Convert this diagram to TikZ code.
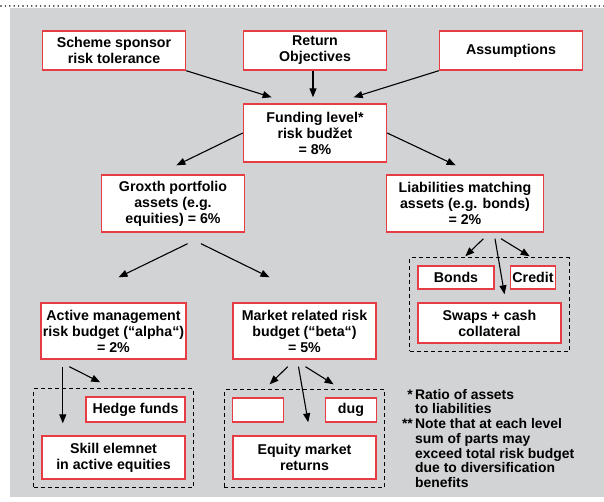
\documentclass[tikz,border=0pt]{standalone}
\usepackage{fontspec}
\setmainfont{Liberation Sans}
\newfontfamily\diagfont{Liberation Sans}
\usetikzlibrary{arrows.meta,fit}

\definecolor{boxred}{RGB}{232,60,68}
\definecolor{panelgray}{RGB}{210,211,213}

\tikzset{
  box/.style={draw=boxred, line width=1.4pt, fill=white, align=center, inner sep=2pt,
    font=\diagfont\bfseries\fontsize{14.2}{16}\selectfont},
  grp/.style={draw=black, line width=1pt, dash pattern=on 4pt off 3pt, inner sep=7.5pt},
}

\begin{document}
\begin{tikzpicture}[x=1pt, y=-1pt, >={Triangle[length=9pt,width=7pt]}]
\useasboundingbox (0,0) rectangle (604,502);

% Fondo gris y linea de puntos
\fill[panelgray] (10,8) rectangle (604,497);
\draw[line width=1.6pt, line cap=round, dash pattern=on 0pt off 4.4pt] (1,6) -- (604,6);

% Fila superior
\node[box, minimum width=143pt, minimum height=39pt] (sponsor) at (114,50.5) {Scheme sponsor\\risk tolerance};
\node[box, minimum width=143pt, minimum height=39pt] (ret) at (315,50.5) {Return\\Objectives};
\node[box, minimum width=143pt, minimum height=39pt] (assump) at (511,50.5) {Assumptions};

% Presupuesto total
\node[box, minimum width=143pt, minimum height=58pt] (fund) at (315,133) {Funding level*\\risk budžet\\= 8\%};

% Segundo nivel
\node[box, minimum width=143pt, minimum height=57pt] (growth) at (173,203.5) {Groxth portfolio\\assets (e.g.\\equities) = 6\%};
\node[box, minimum width=157pt, minimum height=57pt] (liab) at (465,203.5) {Liabilities matching\\assets (e.g. bonds)\\= 2\%};

% Tercer nivel
\node[box, minimum width=143pt, minimum height=56pt] (active) at (113.5,331) {Active management\\risk budget (“alpha“)\\= 2\%};
\node[box, minimum width=143pt, minimum height=56pt] (market) at (304.5,331) {Market related risk\\budget (“beta“)\\= 5\%};

% Cajas de activos
\node[box, minimum width=76pt, minimum height=23pt] (bonds) at (456,277.5) {Bonds};
\node[box, minimum width=44pt, minimum height=23pt] (credit) at (533,277.5) {Credit};
\node[box, minimum width=143pt, minimum height=40pt] (swaps) at (489.5,323) {Swaps + cash\\collateral};
\node[box, minimum width=99pt, minimum height=25pt] (hedge) at (135.5,409.5) {Hedge funds};
\node[box, minimum width=143pt, minimum height=43pt] (skill) at (113.5,457.5) {Skill elemnet\\in active equities};
\node[box, minimum width=51pt, minimum height=24pt] (blank) at (258,410) {};
\node[box, minimum width=51pt, minimum height=24pt] (dug) at (351,410) {dug};
\node[box, minimum width=143pt, minimum height=43pt] (equity) at (304.5,457.5) {Equity market\\returns};

% Marcos discontinuos
\node[grp, fit=(bonds)(credit)(swaps)] (liabgrp) {};
\node[grp, fit=(hedge)(skill)] (activegrp) {};
\node[grp, fit=(blank)(dug)(equity)] (marketgrp) {};

% Flechas hacia el presupuesto total
\draw[->, line width=1.1pt] (sponsor.south east) -- ([xshift=-43.4pt,yshift=6pt]fund.north);
\draw[->, line width=1.1pt] ([xshift=-2pt]ret.south) -- ([xshift=-2pt,yshift=6pt]fund.north);
\draw[->, line width=1.1pt] (assump.south west) -- ([xshift=38.6pt,yshift=6pt]fund.north);

% Flechas del segundo nivel
\draw[->, line width=1.1pt] (fund.west) -- ([xshift=3.4pt,yshift=9pt]growth.north);
\draw[->, line width=1.1pt] (fund.east) -- ([xshift=-9.3pt,yshift=9pt]liab.north);

% Flechas del tercer nivel
\draw[->, line width=1.1pt] ([xshift=14.6pt,yshift=-11pt]growth.south) -- ([xshift=5pt,yshift=25pt]active.north);
\draw[->, line width=1.1pt] ([xshift=28pt,yshift=-11pt]growth.south) -- ([xshift=-35pt,yshift=25pt]market.north);

% Flechas de pasivos
\draw[->, line width=1.1pt] ([xshift=18.4pt,yshift=-6pt]liab.south) -- ([xshift=9.3pt,yshift=9pt]bonds.north);
\draw[->, line width=1.1pt] ([xshift=30pt,yshift=-6pt]liab.south) -- ([xshift=15pt,yshift=8pt]swaps.north);
\draw[->, line width=1.1pt] ([xshift=36pt,yshift=-6pt]liab.south) -- ([xshift=-3.3pt,yshift=9pt]credit.north);

% Flechas de gestion activa
\draw[->, line width=1.1pt] ([xshift=-50.7pt,yshift=-7pt]active.south) -- ([xshift=-50.7pt,yshift=12pt]skill.north);
\draw[->, line width=1.1pt] ([xshift=-44.2pt,yshift=-7pt]active.south) -- ([xshift=-35.3pt,yshift=14pt]hedge.north);

% Flechas de mercado
\draw[->, line width=1.1pt] ([xshift=-16.8pt,yshift=-7pt]market.south) -- ([xshift=11.6pt,yshift=13pt]blank.north);
\draw[->, line width=1.1pt] ([xshift=-6pt,yshift=-7pt]market.south) -- ([xshift=3.7pt,yshift=13pt]equity.north);
\draw[->, line width=1.1pt] ([xshift=1pt,yshift=-7pt]market.south) -- ([xshift=-17.4pt,yshift=13pt]dug.north);

% Notas
\node[anchor=north west, align=left, inner sep=0pt,
      font=\diagfont\bfseries\fontsize{13.9}{14.7}\selectfont] (notes) at (415,389)
  {\llap{*\,}Ratio of assets\\to liabilities\\\llap{**\,}Note that at each level\\sum of parts may\\exceed total risk budget\\due to diversification\\benefits};

\end{tikzpicture}
\end{document}
